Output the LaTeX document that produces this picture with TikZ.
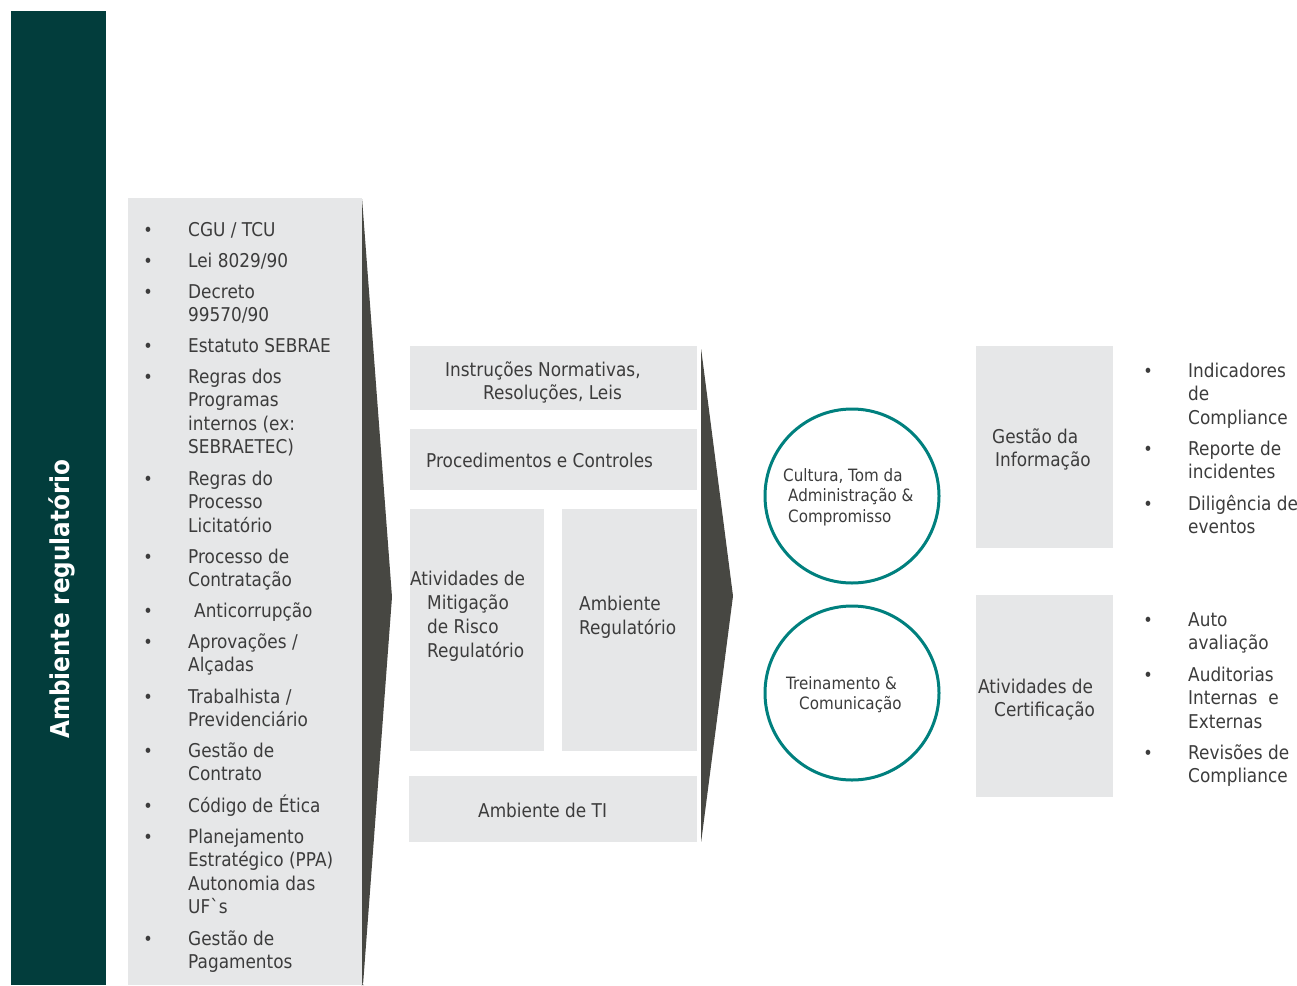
\documentclass[tikz,border=0pt]{standalone}
\usepackage{fontspec}
\setmainfont{DejaVu Sans}[FakeStretch=0.89]
\newfontfamily\rawfont{DejaVu Sans}[FakeStretch=0.89]
\definecolor{barc}{HTML}{023D3C}
\definecolor{boxc}{HTML}{E6E7E8}
\definecolor{chevc}{HTML}{474742}
\definecolor{circc}{HTML}{00807E}
\definecolor{txt}{HTML}{3C3C3C}
\tikzset{
  gbox/.style={fill=boxc, draw=none, inner sep=0pt, anchor=north west},
  ltxt/.style={anchor=base west, align=left, text=txt, inner sep=0pt, font=\fontsize{19}{23.6}\selectfont},
  bul/.style={anchor=base, text=txt, inner sep=0pt, font=\fontsize{18}{18}\selectfont},
  ctxt/.style={anchor=base west, align=left, text=txt, inner sep=0pt, font=\fontsize{17}{20.5}\selectfont},
  ring/.style={circle, draw=circc, line width=3pt, minimum size=174pt, inner sep=0pt},
  chev/.style={fill=chevc, rounded corners=2pt}
}
\begin{document}
\begin{tikzpicture}[x=1pt,y=-1pt]
\useasboundingbox (0,0) rectangle (1297,985);
\fill[white] (0,0) rectangle (1297,985);
% left bar
\node[fill=barc, minimum width=95pt, minimum height=974pt, inner sep=0pt, anchor=north west] (bar) at (11,11) {};
\node[rotate=90, text=white, inner sep=0pt, font=\bfseries\fontsize{26}{26}\selectfont] (title) at (62,599) {Ambiente regulatório};
% left chevron and box
\fill[chev] (362,198) -- (392,597) -- (363,985) -- (362,985) -- cycle;
\node[gbox, minimum width=234pt, minimum height=787pt] (lbox) at (128,198) {};
% left list (anchors are baselines of the last line)
\foreach \y in {236,267,298,352,383,485,563,617,648,703,757,812,843,945}
  \node[bul] at (148,\y) {•};
\node[ltxt] (l1) at (188,236) {CGU / TCU};
\node[ltxt] (l2) at (188,267) {Lei 8029/90};
\node[ltxt] (l3) at (188,321.6) {Decreto\\99570/90};
\node[ltxt] (l4) at (188,352) {Estatuto SEBRAE};
\node[ltxt] (l5) at (188,453.8) {Regras dos\\Programas\\internos (ex:\\SEBRAETEC)};
\node[ltxt] (l6) at (188,532.2) {Regras do\\Processo\\Licitatório};
\node[ltxt] (l7) at (188,586.6) {Processo de\\Contratação};
\node[ltxt] (l8) at (194,617) {Anticorrupção};
\node[ltxt] (l9) at (188,671.6) {Aprovações /\\Alçadas};
\node[ltxt] (l10) at (188,726.6) {Trabalhista /\\Previdenciário};
\node[ltxt] (l11) at (188,780.6) {Gestão de\\Contrato};
\node[ltxt] (l12) at (188,812) {Código de Ética};
\node[ltxt] (l13) at (188,913.8) {Planejamento\\Estratégico (PPA)\\Autonomia das\\UF{\rawfont`}s};
\node[ltxt] (l14) at (188,968.6) {Gestão de\\Pagamentos};
% middle boxes
\node[gbox, minimum width=287pt, minimum height=64pt] (m1) at (410,346) {};
\node[gbox, minimum width=287pt, minimum height=61pt] (m2) at (410,429) {};
\node[gbox, minimum width=134pt, minimum height=242pt] (m3) at (410,509) {};
\node[gbox, minimum width=135pt, minimum height=242pt] (m4) at (562,509) {};
\node[gbox, minimum width=288pt, minimum height=66pt] (m5) at (409,776) {};
\node[ltxt] (t1) at (445,399.6) {Instruções Normativas,\\\hspace*{38pt}Resoluções, Leis};
\node[ltxt] (t2) at (426,467) {Procedimentos e Controles};
\node[ltxt, font=\fontsize{19}{24}\selectfont] (t3) at (410,657) {Atividades de\\\hspace*{17pt}Mitigação\\\hspace*{17pt}de Risco\\\hspace*{17pt}Regulatório};
\node[ltxt, font=\fontsize{19}{24}\selectfont] (t4) at (579,634) {Ambiente\\Regulatório};
\node[ltxt] (t5) at (478,817) {Ambiente de TI};
% middle chevron
\fill[chev] (701,348) -- (733,596) -- (701,843) -- cycle;
% circles
\node[ring] (c1) at (852,496) {};
\node[ring] (c2) at (852,693) {};
\node[ctxt] (ct1) at (783,522) {Cultura, Tom da\\\hspace*{5pt}Administração \&\\\hspace*{5pt}Compromisso};
\node[ctxt] (ct2) at (786,709.5) {Treinamento \&\\\hspace*{13pt}Comunicação};
% right boxes
\node[gbox, minimum width=137pt, minimum height=202pt] (r1) at (976,346) {};
\node[gbox, minimum width=137pt, minimum height=202pt] (r2) at (976,595) {};
\node[ltxt] (rt1) at (992,466.6) {Gestão da\\\hspace*{3pt}Informação};
\node[ltxt] (rt2) at (978,716.6) {Atividades de\\\hspace*{16pt}Certificação};
% right list
\foreach \y in {377,455,510,626,681,759}
  \node[bul] at (1148,\y) {•};
\node[ltxt] (q1) at (1188,424.2) {Indicadores\\de\\Compliance};
\node[ltxt] (q2) at (1188,478.6) {Reporte de\\incidentes};
\node[ltxt] (q3) at (1188,533.6) {Diligência de\\eventos};
\node[ltxt] (q4) at (1188,649.6) {Auto\\avaliação};
\node[ltxt] (q5) at (1188,728.2) {Auditorias\\Internas\ \ e\\Externas};
\node[ltxt] (q6) at (1188,782.6) {Revisões de\\Compliance};
\end{tikzpicture}
\end{document}
